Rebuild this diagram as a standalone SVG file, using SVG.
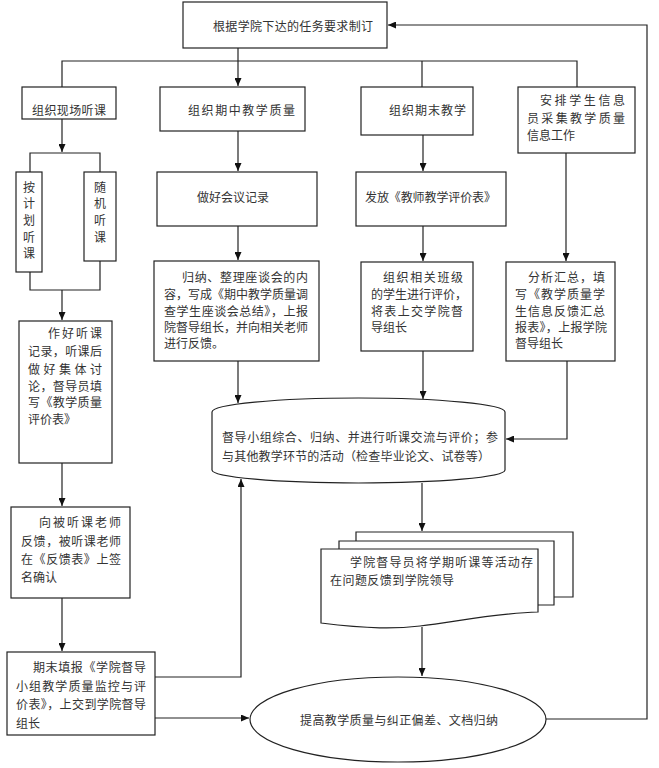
<svg xmlns="http://www.w3.org/2000/svg" width="659" height="768" viewBox="0 0 659 768">
<style>
.b{fill:#fff;stroke:#222;stroke-width:1.2}
.c{fill:none;stroke:#222;stroke-width:1.2}
text{font-family:"Noto Sans CJK SC","Noto Sans",sans-serif;font-size:12px;fill:#333}
.m{text-anchor:middle}
</style>
<defs>
<marker id="a" markerUnits="userSpaceOnUse" markerWidth="8" markerHeight="7" refX="8" refY="3.5" orient="auto">
<path d="M0,0 L8,3.5 L0,7 z" fill="#111"/>
</marker>
</defs>
<rect width="659" height="768" fill="#fff"/>
<g id="connectors" class="c">
<path d="M238,48 V86" marker-end="url(#a)"/>
<path d="M62,87 V61 H577 V87"/>
<path d="M422,61 V87"/>
<path d="M62,119 V152" marker-end="url(#a)"/>
<path d="M30,172 V153 H100 V172"/>
<path d="M30,272 V290 H100 V261"/>
<path d="M62,290 V320" marker-end="url(#a)"/>
<path d="M62,463 V506" marker-end="url(#a)"/>
<path d="M62,598 V651" marker-end="url(#a)"/>
<path d="M155,677 H241 V479" marker-end="url(#a)"/>
<path d="M155,718 H249" marker-end="url(#a)"/>
<path d="M238,131 V171" marker-end="url(#a)"/>
<path d="M238,226 V260" marker-end="url(#a)"/>
<path d="M238,361 V403" marker-end="url(#a)"/>
<path d="M423,135 V171" marker-end="url(#a)"/>
<path d="M423,226 V261" marker-end="url(#a)"/>
<path d="M423,351 V399" marker-end="url(#a)"/>
<path d="M566,153 V261" marker-end="url(#a)"/>
<path d="M567,361 V439 H506" marker-end="url(#a)"/>
<path d="M422,483 V531" marker-end="url(#a)"/>
<path d="M422,627 V676" marker-end="url(#a)"/>
<path d="M546,719 H647 V25 H388" marker-end="url(#a)"/>
</g>
<g id="n-top"><rect class="b" x="183" y="2" width="204" height="46"/><text x="213" y="30.5" textLength="160" lengthAdjust="spacing">根据学院下达的任务要求制订</text></g>
<g id="n-live"><rect class="b" x="22" y="87" width="94" height="32"/><text x="32" y="114.5" textLength="74" lengthAdjust="spacing">组织现场听课</text></g>
<g id="n-mid"><rect class="b" x="160" y="87" width="145" height="44"/><text x="188" y="114.5" textLength="107" lengthAdjust="spacing">组织期中教学质量</text></g>
<g id="n-end"><rect class="b" x="361" y="87" width="112" height="48"/><text x="389" y="114.5" textLength="77" lengthAdjust="spacing">组织期末教学</text></g>
<g id="n-info"><rect class="b" x="518" y="87" width="117" height="66"/>
<text x="540" y="104.5" textLength="85" lengthAdjust="spacing">安排学生信息</text>
<text x="527" y="122.5" textLength="98" lengthAdjust="spacing">员采集教学质量</text>
<text x="527" y="139.5">信息工作</text></g>
<g id="n-plan"><rect class="b" x="16" y="172" width="26" height="100"/>
<text class="m" x="29" y="191.5">按</text><text class="m" x="29" y="207.5">计</text><text class="m" x="29" y="224.5">划</text><text class="m" x="29" y="241.5">听</text><text class="m" x="29" y="257.5">课</text></g>
<g id="n-rand"><rect class="b" x="84" y="172" width="32" height="89"/>
<text class="m" x="100" y="191.5">随</text><text class="m" x="100" y="207.5">机</text><text class="m" x="100" y="224.5">听</text><text class="m" x="100" y="241.5">课</text></g>
<g id="n-record"><rect class="b" x="19" y="321" width="93" height="142"/>
<text x="48" y="337.5" textLength="54" lengthAdjust="spacing">作好听课</text>
<text x="28" y="355.5" textLength="74" lengthAdjust="spacing">记录，听课后</text>
<text x="28" y="373.5" textLength="74" lengthAdjust="spacing">做好集体讨</text>
<text x="28" y="390.5" textLength="74" lengthAdjust="spacing">论，督导员填</text>
<text x="28" y="406.5" textLength="74" lengthAdjust="spacing">写《教学质量</text>
<text x="28" y="423.5">评价表》</text></g>
<g id="n-feedback"><rect class="b" x="11" y="507" width="119" height="91"/>
<text x="39" y="526.5" textLength="82" lengthAdjust="spacing">向被听课老师</text>
<text x="21" y="545.5" textLength="100" lengthAdjust="spacing">反馈，被听课老师</text>
<text x="21" y="563.5" textLength="100" lengthAdjust="spacing">在《反馈表》上签</text>
<text x="21" y="581.5">名确认</text></g>
<g id="n-report"><rect class="b" x="7" y="652" width="148" height="83"/>
<text x="33" y="671.5" textLength="113" lengthAdjust="spacing">期末填报《学院督导</text>
<text x="16" y="690.5" textLength="130" lengthAdjust="spacing">小组教学质量监控与评</text>
<text x="16" y="708.5" textLength="130" lengthAdjust="spacing">价表》，上交到学院督导</text>
<text x="16" y="727.5">组长</text></g>
<g id="n-meeting"><rect class="b" x="157" y="172" width="160" height="54"/><text x="197" y="201.5" textLength="72" lengthAdjust="spacing">做好会议记录</text></g>
<g id="n-summary"><rect class="b" x="154" y="261" width="165" height="100"/>
<text x="182" y="281.5" textLength="126" lengthAdjust="spacing">归纳、整理座谈会的内</text>
<text x="164" y="298.5" textLength="144" lengthAdjust="spacing">容，写成《期中教学质量调</text>
<text x="164" y="315.5" textLength="144" lengthAdjust="spacing">查学生座谈会总结》，上报</text>
<text x="164" y="331.5" textLength="144" lengthAdjust="spacing">院督导组长，并向相关老师</text>
<text x="164" y="347.5">进行反馈。</text></g>
<g id="n-distribute"><rect class="b" x="356" y="172" width="150" height="54"/><text x="365" y="201.5" textLength="131" lengthAdjust="spacing">发放《教师教学评价表》</text></g>
<g id="n-evaluate"><rect class="b" x="361" y="262" width="112" height="89"/>
<text x="383" y="281.5" textLength="80" lengthAdjust="spacing">组织相关班级</text>
<text x="371" y="298.5" textLength="96" lengthAdjust="spacing">的学生进行评价，</text>
<text x="371" y="315.5" textLength="92" lengthAdjust="spacing">将表上交学院督</text>
<text x="371" y="331.5">导组长</text></g>
<g id="n-analyze"><rect class="b" x="506" y="262" width="109" height="99"/>
<text x="528" y="281.5" textLength="77" lengthAdjust="spacing">分析汇总，填</text>
<text x="515" y="298.5" textLength="90" lengthAdjust="spacing">写《教学质量学</text>
<text x="515" y="315.5" textLength="90" lengthAdjust="spacing">生信息反馈汇总</text>
<text x="515" y="331.5" textLength="92" lengthAdjust="spacing">报表》，上报学院</text>
<text x="515" y="348">督导组长</text></g>
<g id="n-group"><path class="b" d="M212,412 A146.5,14 0 0 1 505,412 V470 A146.5,13 0 0 1 212,470 Z"/>
<text x="222" y="441.5" textLength="276" lengthAdjust="spacing">督导小组综合、归纳、并进行听课交流与评价；参</text>
<text x="222" y="460.5" textLength="268" lengthAdjust="spacing">与其他教学环节的活动（检查毕业论文、试卷等）</text></g>
<g id="n-docs">
<path class="b" d="M356,541 V532 H573 V597 H554"/>
<path class="b" d="M339,549 V541 H554 V605 H538"/>
<path class="b" d="M321,549 H538 V612 C495,613 455,622 420,626 C395,629 370,629 321,623 Z"/>
<text x="350" y="566.5" textLength="183" lengthAdjust="spacing">学院督导员将学期听课等活动存</text>
<text x="330" y="584.5" textLength="124" lengthAdjust="spacing">在问题反馈到学院领导</text></g>
<g id="n-improve"><ellipse class="b" cx="398" cy="719.5" rx="148" ry="42.5"/>
<text x="300" y="724.5" textLength="198" lengthAdjust="spacing">提高教学质量与纠正偏差、文档归纳</text></g>
</svg>
